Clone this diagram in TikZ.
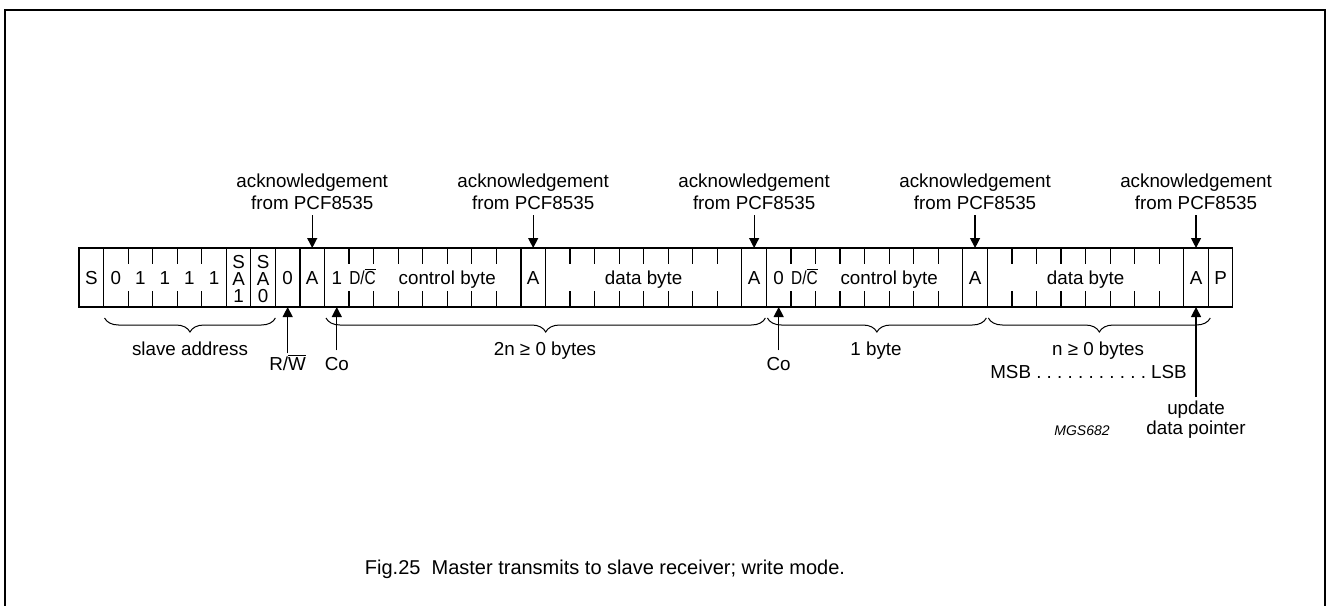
\documentclass[tikz,border=0pt]{standalone}
\usepackage{fontspec}
\usepackage{graphicx}
\setmainfont{Liberation Sans}
\usetikzlibrary{arrows.meta,decorations.pathreplacing,positioning}

\newcommand{\ovl}[1]{$\overline{\mbox{#1}}$}
\newcommand{\cx}[1]{79+24.55*(#1)}
\newcommand{\dcbit}{\scalebox{0.82}[1]{D/\ovl{C}}}

\begin{document}
\frenchspacing
\begin{tikzpicture}[x=1pt, y=-1pt, line width=1.2pt,
  txt/.style={anchor=base, inner sep=0pt, font=\fontsize{18.8}{22}\selectfont},
  ack/.style={anchor=north, inner sep=0pt, align=center, font=\fontsize{18.8}{22}\selectfont},
  stackbit/.style={inner sep=0pt, align=center, font=\fontsize{18.8}{17}\selectfont},
  arr/.style={-{Triangle[length=10pt,width=10pt]}},
  bytebrace/.style={decorate, decoration={brace, mirror, amplitude=14pt}, line width=1pt}]

\useasboundingbox (0,0) rectangle (1327,605);
\draw (5,607) -- (5,10) -- (1325,10) -- (1325,607);

% bit frame
\draw ({\cx{0}},248) rectangle ({\cx{47}},307);
\foreach \i in {1,6,7,8,9,10,18,19,27,28,36,37,45,46}
  \draw ({\cx{\i}},248) -- ({\cx{\i}},307);
\foreach \i in {2,...,5}
  {\draw ({\cx{\i}},248) -- ++(0,16); \draw ({\cx{\i}},307) -- ++(0,-16);}
\foreach \b in {10,19,28,37}
  \foreach \k in {1,...,7}
    {\draw ({\cx{\b+\k}},248) -- ++(0,16); \draw ({\cx{\b+\k}},307) -- ++(0,-16);}

% top and bottom of the marked cells
\foreach \i in {8,9,10,18,27,28,36,45}
  {\coordinate (t\i) at ({\cx{\i+0.5}},248);
   \coordinate (u\i) at ({\cx{\i+0.5}},307);}

% bits
\node[txt] (start) at ({\cx{0.5}},284) {S};
\foreach \i/\v in {1/0,2/1,3/1,4/1,5/1}
  \node[txt] (adr\i) at ({\cx{\i+0.5}},284) {\v};
\node[stackbit] (sa1) at ({\cx{6.5}},279) {S\\A\\1};
\node[stackbit] (sa0) at ({\cx{7.5}},279) {S\\A\\0};
\node[txt] (rwbit) at ({\cx{8.5}},284) {0};
\foreach \i in {9,18,27,36,45}
  \node[txt] (a\i) at ({\cx{\i+0.5}},284) {A};
\node[txt] (cobit1) at ({\cx{10.5}},284) {1};
\node[txt] (dc1) at ({\cx{11.55}},284) {\dcbit};
\node[txt] (ctrl1) at ({\cx{15}},284) {control byte};
\node[txt] (data1) at ({\cx{23}},284) {data byte};
\node[txt] (cobit2) at ({\cx{28.5}},284) {0};
\node[txt] (dc2) at ({\cx{29.55}},284) {\dcbit};
\node[txt] (ctrl2) at ({\cx{33}},284) {control byte};
\node[txt] (data2) at ({\cx{41}},284) {data byte};
\node[txt] (stop) at ({\cx{46.5}},284) {P};

% acknowledgements
\foreach \i in {9,18,27,36,45}
  {\node[ack] (ackl\i) at ({\cx{\i+0.5}},173) {acknowledgement\\from PCF8535};
   \draw[arr, shorten <=5pt] (ackl\i.south) -- (t\i);}

% braces
\draw[bytebrace] ({\cx{1}+1},318) -- ({\cx{8}},318);
\draw[bytebrace] ({\cx{10}+1.5},318) -- ({\cx{28}-1},318);
\draw[bytebrace] ({\cx{28}+1},318) -- ({\cx{37}-1},318);
\draw[bytebrace] ({\cx{37}+1},318) -- ({\cx{46}+2},318);
\node[txt] (slave) at (190,355) {slave address};
\node[txt] (bytes2n) at (545,355) {2n ≥ 0 bytes};
\node[txt] (byte1) at (876,355) {1 byte};
\node[txt] (bytesn) at (1098,355) {n ≥ 0 bytes};
\node[txt] (msb) at (1088.5,378.5) {MSB . . . . . . . . . . . LSB};

% pointers from below
\node[txt] (rw) at ({\cx{8.5}},370) {R/\ovl{W}};
\draw[arr, shorten <=1pt] (rw.north) -- (u8);
\node[txt] (co1) at ({\cx{10.5}},370) {Co};
\draw[arr, shorten <=6pt] (co1.north) -- (u10);
\node[txt] (co2) at ({\cx{28.5}},370) {Co};
\draw[arr, shorten <=6pt] (co2.north) -- (u28);
\node[ack, font=\fontsize{18.8}{20}\selectfont] (upd) at ({\cx{45.5}},400) {update\\data pointer};
\draw[arr, shorten <=3pt] (upd.north) -- (u45);

\node[txt, font=\fontsize{14}{16}\selectfont\itshape] (code) at (1082,435) {MGS682};
\node[txt, font=\fontsize{20}{24}\selectfont] (caption) at (605,574) {Fig.25\ \ Master transmits to slave receiver; write mode.};
\end{tikzpicture}
\end{document}
